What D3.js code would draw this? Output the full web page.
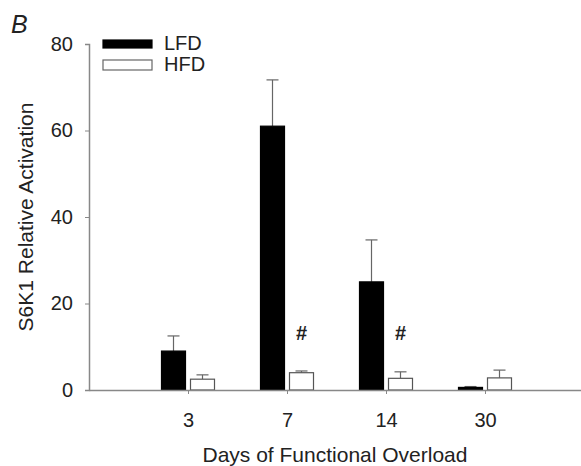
<!DOCTYPE html>
<html>
<head>
<meta charset="utf-8">
<script src="https://cdn.jsdelivr.net/npm/d3@7"></script>
<style>
  html, body { margin: 0; padding: 0; background: #fff; }
  text { font-family: "Liberation Sans", Arial, sans-serif; fill: #222; }
</style>
</head>
<body>
<svg id="chart" width="581" height="466"></svg>
<script>
const categories = ["3", "7", "14", "30"];
const seriesNames = ["LFD", "HFD"];
const lfdValues = [9.0, 61.0, 25.0, 0.6];
const lfdErrors = [3.5, 10.7, 9.7, 0.2];
const hfdValues = [2.5, 4.0, 2.7, 2.8];
const hfdErrors = [1.0, 0.4, 1.5, 1.8];
const significant = [false, true, true, false];
const yTicks = [0, 20, 40, 60, 80];

const svg = d3.select("#chart");
const axisColor = "#888";
const fs = 20;

const x = d3.scaleLinear().domain([0, 5]).range([89, 584]);
const y = d3.scaleLinear().domain([0, 80]).range([390, 44]);
const barW = 24, gap = 2.5;

const series = [
  { name: "LFD", vals: lfdValues, errs: lfdErrors, fill: "#000", off: -gap - barW },
  { name: "HFD", vals: hfdValues, errs: hfdErrors, fill: "#fff", off: gap }
];

series.forEach(s => {
  const g = svg.append("g");
  categories.forEach((c, i) => {
    const x0 = x(i + 1) + s.off;
    const top = y(s.vals[i] + s.errs[i]);
    g.append("line").attr("x1", x0 + barW / 2).attr("x2", x0 + barW / 2)
      .attr("y1", y(s.vals[i])).attr("y2", top)
      .attr("stroke", "#666").attr("stroke-width", 1.2);
    g.append("line").attr("x1", x0 + barW / 2 - 6).attr("x2", x0 + barW / 2 + 6)
      .attr("y1", top).attr("y2", top)
      .attr("stroke", "#666").attr("stroke-width", 1.2);
    g.append("rect").attr("x", x0).attr("width", barW)
      .attr("y", y(s.vals[i])).attr("height", y(0) - y(s.vals[i]))
      .attr("fill", s.fill).attr("stroke", s.name === "LFD" ? "#000" : "#555")
      .attr("stroke-width", 1.2);
  });
});

categories.forEach((c, i) => {
  if (significant[i]) {
    svg.append("text").attr("x", x(i + 1) + gap + barW / 2).attr("y", y(11.5))
      .attr("text-anchor", "middle").attr("font-size", 20).attr("font-weight", "bold").text("#");
  }
});

const yAxis = d3.axisLeft(y).tickValues(yTicks).tickSize(4).tickPadding(12);
const gy = svg.append("g").attr("transform", `translate(${x(0)},0)`).call(yAxis);
gy.select(".domain").attr("stroke", axisColor).attr("stroke-width", 1.5);
gy.selectAll(".tick line").attr("stroke", axisColor);
gy.selectAll(".tick text").attr("font-size", fs).style("fill", "#222")
  .attr("font-family", "Liberation Sans, Arial, sans-serif");

const xAxis = d3.axisBottom(x).tickValues([1, 2, 3, 4])
  .tickFormat((d) => categories[d - 1]).tickSize(4).tickSizeOuter(0).tickPadding(19);
const gx = svg.append("g").attr("transform", `translate(0,${y(0)})`).call(xAxis);
gx.select(".domain").attr("stroke", axisColor).attr("stroke-width", 1.5);
gx.selectAll(".tick line").attr("stroke", axisColor);
gx.selectAll(".tick text").attr("font-size", fs).style("fill", "#222")
  .attr("font-family", "Liberation Sans, Arial, sans-serif");

svg.append("text").attr("x", 335).attr("y", 462).attr("text-anchor", "middle")
  .attr("font-size", 21).text("Days of Functional Overload");
svg.append("text").attr("transform", "translate(33,217) rotate(-90)")
  .attr("text-anchor", "middle").attr("font-size", 21).text("S6K1 Relative Activation");

svg.append("text").attr("x", 11).attr("y", 33).attr("font-size", 25)
  .attr("font-style", "italic").text("B");

const legend = svg.append("g");
seriesNames.forEach((n, i) => {
  const ly = 40 + i * 20;
  legend.append("rect").attr("x", 103).attr("y", ly).attr("width", 49).attr("height", i === 0 ? 8 : 10)
    .attr("fill", i === 0 ? "#000" : "#fff").attr("stroke", i === 0 ? "#000" : "#666").attr("stroke-width", 1.2);
  legend.append("text").attr("x", 164).attr("y", 50 + i * 21).attr("font-size", fs).text(n);
});
</script>
</body>
</html>
